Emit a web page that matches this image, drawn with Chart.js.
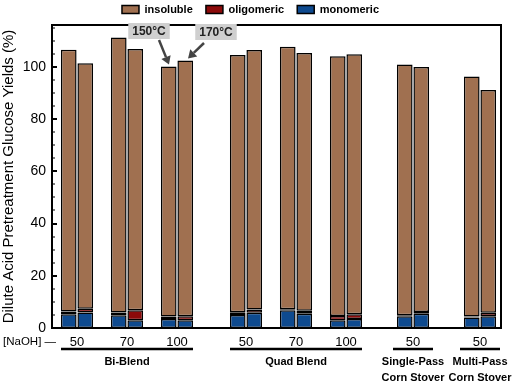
<!DOCTYPE html>
<html>
<head>
<meta charset="utf-8">
<script src="https://cdn.jsdelivr.net/npm/chart.js@4.4.1/dist/chart.umd.min.js"></script>
<style>
  html, body { margin: 0; padding: 0; background: #fff; }
  #wrap { width: 526px; height: 383px; }
</style>
</head>
<body>
<div id="wrap"><canvas id="yield-chart"></canvas></div>
<script>
const naoh = ["50", "70", "100", "50", "70", "100", "50", "50"];
// position of each pair along the axis (groups are spaced apart)
const xPos = [1, 2, 3, 4.38, 5.38, 6.38, 7.72, 9.06];
const groupNames = [["Bi-Blend"], ["Quad Blend"], ["Single-Pass", "Corn Stover"], ["Multi-Pass", "Corn Stover"]];
const groupFirst = [0, 3, 6, 7];
const groupLast = [2, 5, 6, 7];

// 150 C (left bar of each pair)
const mono150 = [5.3, 4.9, 3.4, 5.0, 6.8, 3.0, 4.5, 4.0];
const oligo150 = [1.0, 1.0, 1.0, 1.0, 0.4, 1.6, 0.4, 0.4];
const insol150 = [100.2, 105.3, 95.7, 98.5, 100.5, 99.4, 96.0, 91.9];
// 170 C (right bar of each pair)
const mono170 = [5.9, 3.0, 3.0, 5.8, 5.5, 3.4, 5.5, 4.5];
const oligo170 = [1.5, 3.8, 1.5, 1.3, 1.1, 1.9, 0.6, 1.3];
const insol170 = [94.0, 100.0, 97.9, 99.3, 98.7, 99.5, 93.8, 85.3];

const COLORS = { insoluble: "#a07050", oligomeric: "#8c0a0a", monomeric: "#0e4a8f" };
const FONT = "Arial, 'Liberation Sans', sans-serif";

function pts(arr) {
  return arr.map((v, i) => ({ x: xPos[i], y: v }));
}
function ds(label, arr, stack) {
  return {
    label: label,
    data: pts(arr),
    stack: stack,
    backgroundColor: COLORS[label],
    borderColor: "#000",
    borderWidth: 1.5,
    borderSkipped: false,
    categoryPercentage: 0.66,
    barPercentage: 0.95,
  };
}

const data_yield = {
  datasets: [
    ds("monomeric", mono150, "150"),
    ds("oligomeric", oligo150, "150"),
    ds("insoluble", insol150, "150"),
    ds("monomeric", mono170, "170"),
    ds("oligomeric", oligo170, "170"),
    ds("insoluble", insol170, "170"),
  ],
};

// frame, inward ticks, group labels and temperature callouts
const extras = {
  id: "extras",
  afterDraw(chart) {
    const ctx = chart.ctx;
    const a = chart.chartArea;
    const x = chart.scales.x, y = chart.scales.y;
    ctx.save();
    ctx.strokeStyle = "#000";
    ctx.lineWidth = 2;
    ctx.strokeRect(a.left, a.top, a.right - a.left, a.bottom - a.top);

    ctx.fillStyle = "#000";
    for (let v = 0; v <= 115; v += 5) {
      const py = Math.round(y.getPixelForValue(v));
      const major = v % 20 === 0;
      ctx.fillRect(a.left, py - (major ? 1 : 0.5), major ? 5 : 3, major ? 2 : 1);
    }

    ctx.font = "11.5px " + FONT;
    ctx.textAlign = "left";
    ctx.textBaseline = "middle";
    ctx.fillText("[NaOH] \u2014", 3, a.bottom + 14);

    ctx.lineWidth = 2.5;
    ctx.font = "bold 11px " + FONT;
    ctx.textAlign = "center";
    groupNames.forEach((lines, g) => {
      const single = groupFirst[g] === groupLast[g];
      const pad = single ? 20 : 16;
      const x0 = x.getPixelForValue(xPos[groupFirst[g]]) - pad;
      const x1 = x.getPixelForValue(xPos[groupLast[g]]) + pad;
      ctx.beginPath();
      ctx.moveTo(x0, a.bottom + 21);
      ctx.lineTo(x1, a.bottom + 21);
      ctx.stroke();
      const mid = (x.getPixelForValue(xPos[groupFirst[g]]) + x.getPixelForValue(xPos[groupLast[g]])) / 2;
      lines.forEach((t, k) => ctx.fillText(t, mid, a.bottom + 34 + k * 16));
    });

    // callouts on the Bi-Blend 100 pair
    const cx = x.getPixelForValue(xPos[2]);
    const topA = y.getPixelForValue(mono150[2] + oligo150[2] + insol150[2]);
    const topB = y.getPixelForValue(mono170[2] + oligo170[2] + insol170[2]);
    callout(ctx, "150\u00b0C", cx - 28, 31, cx - 18, 40, cx - 8, topA - 2);
    callout(ctx, "170\u00b0C", cx + 39, 32, cx + 27, 43, cx + 11, topB - 2);
    ctx.restore();
  },
};

function callout(ctx, text, bx, by, sx, sy, tx, ty) {
  ctx.font = "bold 12px " + FONT;
  const w = ctx.measureText(text).width + 8;
  ctx.fillStyle = "#cfcfcf";
  ctx.fillRect(bx - w / 2, by - 8, w, 16);
  ctx.fillStyle = "#222";
  ctx.textAlign = "center";
  ctx.textBaseline = "middle";
  ctx.fillText(text, bx, by + 1);

  const ang = Math.atan2(ty - sy, tx - sx);
  const hl = 8;
  const ex = tx - Math.cos(ang) * hl, ey = ty - Math.sin(ang) * hl;
  ctx.strokeStyle = "#444";
  ctx.fillStyle = "#444";
  ctx.lineWidth = 2.5;
  ctx.beginPath();
  ctx.moveTo(sx, sy);
  ctx.lineTo(ex, ey);
  ctx.stroke();
  ctx.beginPath();
  ctx.moveTo(tx, ty);
  ctx.lineTo(ex + Math.cos(ang + Math.PI / 2) * 5, ey + Math.sin(ang + Math.PI / 2) * 5);
  ctx.lineTo(ex + Math.cos(ang - Math.PI / 2) * 5, ey + Math.sin(ang - Math.PI / 2) * 5);
  ctx.closePath();
  ctx.fill();
}

const config_yield = {
  type: "bar",
  data: data_yield,
  options: {
    responsive: true,
    maintainAspectRatio: false,
    animation: false,
    layout: { padding: { top: 0, right: 25, bottom: 0, left: 0 } },
    plugins: {
      legend: {
        position: "top",
        labels: {
          boxWidth: 17,
          boxHeight: 8,
          padding: 4,
          color: "#000",
          font: { family: FONT, size: 11, weight: "bold" },
          generateLabels: (chart) =>
            Chart.defaults.plugins.legend.labels.generateLabels(chart)
              .filter((item) => item.datasetIndex < 3)
              .reverse()
              .map((item, k) => Object.assign(item, { text: k < 2 ? item.text + "   " : item.text })),
        },
      },
      tooltip: { enabled: false },
    },
    scales: {
      x: {
        type: "linear",
        stacked: true,
        offset: false,
        min: 0.5,
        max: 9.48,
        grid: { display: false, drawTicks: false, offset: false },
        border: { display: true, color: "#000", width: 1.5 },
        afterBuildTicks: (s) => { s.ticks = xPos.map((v) => ({ value: v })); },
        afterFit: (s) => { s.height = 55; },
        ticks: {
          padding: 7,
          autoSkip: false,
          maxRotation: 0,
          color: "#000",
          font: { family: FONT, size: 13 },
          callback: (v, i) => naoh[i],
        },
      },
      y: {
        stacked: true,
        min: 0,
        max: 116,
        grid: { display: false, drawTicks: false },
        border: { display: true, color: "#000", width: 1.5 },
        afterFit: (s) => { s.width = 52; },
        ticks: {
          stepSize: 20,
          includeBounds: false,
          padding: 6,
          color: "#000",
          font: { family: FONT, size: 14 },
        },
        title: {
          display: true,
          text: "Dilute Acid Pretreatment Glucose Yields (%)",
          color: "#000",
          padding: 0,
          font: { family: FONT, size: 15 },
        },
      },
    },
  },
  plugins: [extras],
};

var ctx_yield = document.getElementById("yield-chart").getContext("2d");
var yieldChart = new Chart(ctx_yield, config_yield);
</script>
</body>
</html>
